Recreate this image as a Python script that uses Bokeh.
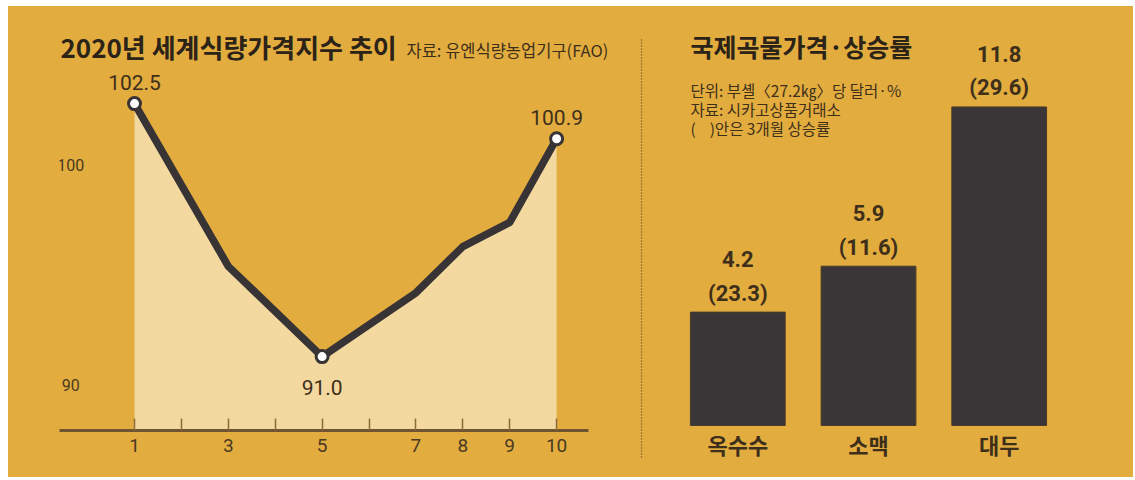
from bokeh.plotting import figure
from bokeh.models import ColumnDataSource, FixedTicker, Label, Range1d, FactorRange, Arrow
from bokeh.layouts import row, column
from bokeh.core.properties import value
from bokeh.embed import file_html
from bokeh.resources import INLINE

# ---------------- data ----------------
months = [1, 3, 5, 7, 8, 9, 10]
index_values = [102.5, 95.1, 91.0, 93.9, 96.0, 97.1, 100.9]
month_ticks = [1, 2, 3, 4, 5, 6, 7, 8, 9, 10]
hidden_month_labels = [2, 4, 6]
y_tick_values = [100, 90]

grains = ["옥수수", "소맥", "대두"]
prices = [4.2, 5.9, 11.8]
rise_3m = [23.3, 11.6, 29.6]

left_title = "2020년 세계식량가격지수 추이"
left_source = "자료: 유엔식량농업기구(FAO)"
right_title = "국제곡물가격·상승률"
right_notes = ["단위: 부셸〈27.2㎏〉당 달러·%", "자료: 시카고상품거래소",
               "(\u00a0\u00a0\u00a0\u00a0)안은 3개월 상승률"]

# ---------------- style ----------------
BG = "#E2AC3E"
CREAM = "#F3D8A0"
DARK = "#383334"
BROWN = "#3E2F1B"
AXIS = "#6E5430"
NUM_S = "Roboto"
NUM = value(NUM_S)
KR_S = "Noto Sans CJK KR"
KR = value(KR_S)

common = dict(output_backend="svg", toolbar_location=None, background_fill_color=None,
              border_fill_color=BG, outline_line_color=None, frame_align=False)

# ---------------- left header ----------------
h1 = figure(width=632, height=61, x_range=Range1d(0, 632), y_range=Range1d(61, 0),
            x_axis_location=None, y_axis_location=None,
            min_border_left=0, min_border_right=0, min_border_top=0, min_border_bottom=0, **common)
h1.grid.visible = False
h1.text(x=[52], y=[40], text=[left_title], text_font=KR, text_font_style="bold",
        text_font_size="26px", text_color="#2B2218", text_baseline="middle", text_align="left")
h1.text(x=[398], y=[43], text=[left_source], text_font=KR, text_font_size="16.5px",
        text_color=BROWN, text_baseline="middle", text_align="left")

# ---------------- left: line chart ----------------
x_lo, x_hi = -0.6, 10.68
y_lo, y_hi = 87.64, 104.14
p1 = figure(width=632, height=410, x_range=Range1d(x_lo, x_hi), y_range=Range1d(y_lo, y_hi),
            y_axis_location=None,
            min_border_left=51, min_border_right=52, min_border_top=0, min_border_bottom=47, **common)
p1.grid.visible = False

xa = p1.xaxis[0]
xa.ticker = FixedTicker(ticks=month_ticks)
xa.major_label_overrides = {m: "" for m in hidden_month_labels}
xa.major_tick_in = 12
xa.major_tick_out = 0
xa.minor_tick_line_color = None
xa.axis_line_color = AXIS
xa.axis_line_width = 3
xa.major_tick_line_color = "#8A6B3C"
xa.major_tick_line_width = 1.5
xa.major_label_text_font = NUM_S
xa.major_label_text_font_size = "19px"
xa.major_label_text_color = "#4A3A22"
xa.major_label_standoff = 8

src = ColumnDataSource(dict(month=months, idx=index_values))
p1.varea(x="month", y1=y_lo, y2="idx", source=src, fill_color=CREAM)
p1.line(x="month", y="idx", source=src, line_color=DARK, line_width=7.5, line_join="round")

low_i = index_values.index(min(index_values))
end_is = [0, len(months) - 1]
mark_is = sorted(end_is + [low_i])
p1.scatter(x=[months[i] for i in mark_is], y=[index_values[i] for i in mark_is],
           size=12, fill_color="white", line_color=DARK, line_width=3)

p1.text(x=[months[i] for i in end_is], y=[index_values[i] for i in end_is],
        text=[f"{index_values[i]:.1f}" for i in end_is], y_offset=-21,
        text_align="center", text_baseline="middle", text_font=NUM,
        text_font_size="21px", text_color=BROWN)
p1.text(x=[months[low_i]], y=[index_values[low_i]], text=[f"{index_values[low_i]:.1f}"],
        y_offset=31, text_align="center", text_baseline="middle", text_font=NUM,
        text_font_size="21px", text_color=BROWN)

p1.text(x=[x_lo + 0.24] * len(y_tick_values), y=y_tick_values, text=[str(v) for v in y_tick_values],
        text_align="center", text_baseline="top", text_font=NUM, text_font_size="16px",
        text_color="#4A3A22")

# ---------------- right: bar chart ----------------
p2 = figure(width=493, height=471,
            x_range=FactorRange(factors=grains, range_padding=0.2444, range_padding_units="absolute"),
            y_range=Range1d(-1.926, 15.52),
            x_axis_location=None, y_axis_location=None,
            min_border_left=0, min_border_right=37, min_border_top=0, min_border_bottom=0, **common)
p2.grid.visible = False

p2.add_layout(Arrow(end=None, x_start=1, y_start=438, x_end=1, y_end=20,
                    start_units="screen", end_units="screen",
                    line_color="#5A4326", line_width=1.3, line_dash="1 2"))

bsrc = ColumnDataSource(dict(grain=grains, price=prices,
                             ptxt=[f"{v:.1f}" for v in prices],
                             rtxt=[f"({v:.1f})" for v in rise_3m]))
p2.vbar(x="grain", top="price", bottom=0, width=0.725, source=bsrc,
        fill_color="#3A3536", line_color="#4A3C2A", line_width=1)
p2.text(x="grain", y="price", text="ptxt", source=bsrc, y_offset=-53,
        text_align="center", text_baseline="middle", text_font=NUM,
        text_font_style="bold", text_font_size="22px", text_color=BROWN)
p2.text(x="grain", y="price", text="rtxt", source=bsrc, y_offset=-19,
        text_align="center", text_baseline="middle", text_font=NUM,
        text_font_style="bold", text_font_size="22px", text_color=BROWN)
p2.text(x="grain", y=0, text="grain", source=bsrc, y_offset=18,
        text_align="center", text_baseline="middle", text_font=KR,
        text_font_style="bold", text_font_size="22px", text_color=BROWN)

p2.add_layout(Label(x=50, y=432, x_units="screen", y_units="screen", text=right_title,
                    text_font=KR_S, text_font_style="bold", text_font_size="25px",
                    text_color="#2B2218", text_baseline="middle", text_align="left"))
for k, line in enumerate(right_notes):
    p2.add_layout(Label(x=50, y=388 - 19 * k, x_units="screen", y_units="screen", text=line,
                        text_font=KR_S, text_font_size="15.5px", text_color=BROWN,
                        text_baseline="middle", text_align="left"))

layout = row(column(h1, p1, spacing=0), p2, spacing=0, margin=(6, 0, 0, 8),
             styles={"background-color": BG})
open("out.html", "w").write(file_html(layout, INLINE))
